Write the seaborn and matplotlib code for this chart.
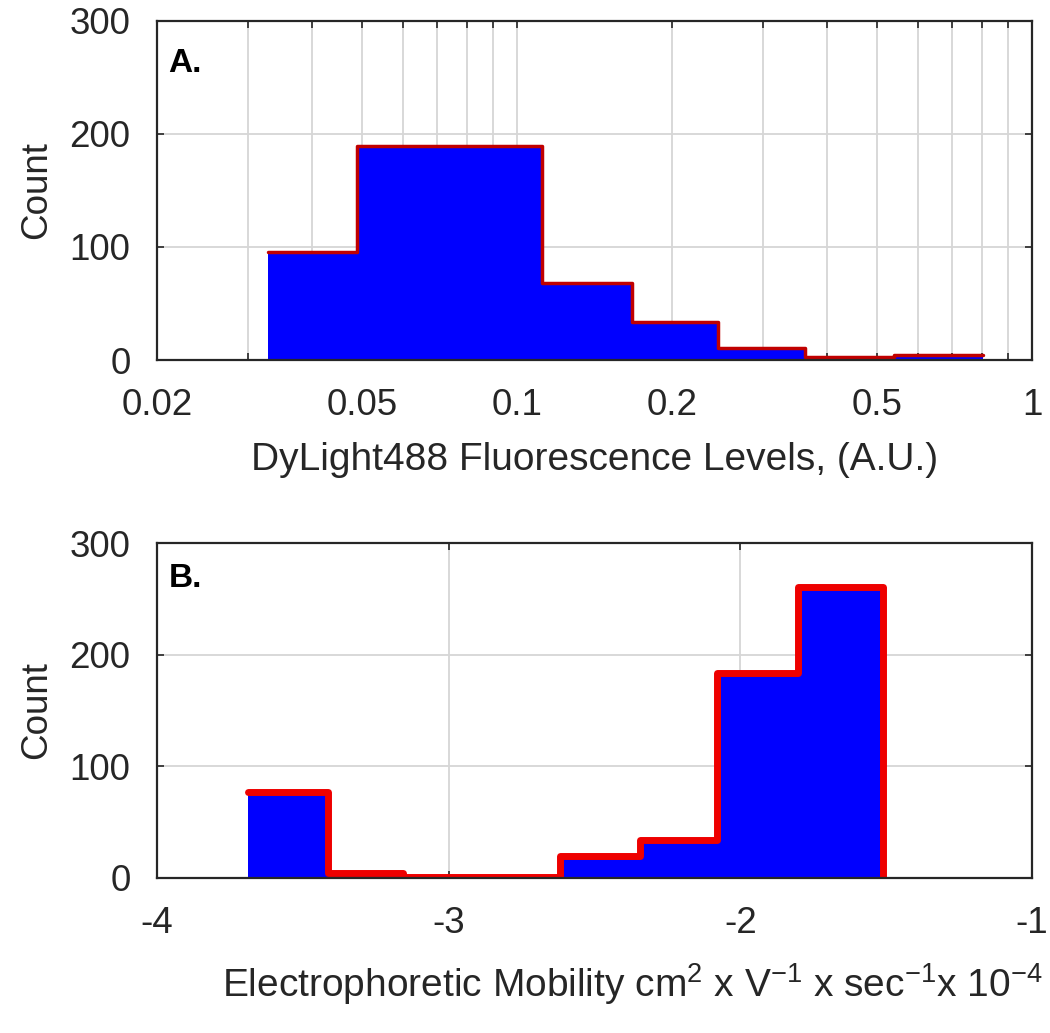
import numpy as np
import pandas as pd
import matplotlib
matplotlib.use("Agg")
import matplotlib.pyplot as plt
import seaborn as sns
from matplotlib.ticker import FixedLocator, FixedFormatter, LogLocator, NullFormatter

# ---------------- data ----------------
# Panel A: DyLight488 fluorescence histogram (log-spaced bins)
fluor_edges = [0.0328, 0.0489, 0.0738, 0.1118, 0.1673, 0.2456, 0.3622, 0.5395, 0.8035]
fluor_counts = [96, 189, 189, 68, 34, 11, 3, 4]
fluor_ticks = [0.02, 0.05, 0.1, 0.2, 0.5, 1]
fluor_ticklabels = ["0.02", "0.05", "0.1", "0.2", "0.5", "1"]

# Panel B: electrophoretic mobility histogram
mob_edges = [-3.688, -3.414, -3.157, -2.889, -2.618, -2.344, -2.080, -1.803, -1.511]
mob_counts = [77, 4, 1, 1, 20, 34, 184, 261]
mob_ticks = [-4, -3, -2, -1]
mob_ticklabels = ["-4", "-3", "-2", "-1"]

count_ticks = [0, 100, 200, 300]
count_ticklabels = ["0", "100", "200", "300"]

xlabel_a = "DyLight488 Fluorescence Levels, (A.U.)"
xlabel_b = r"Electrophoretic Mobility cm$^2$ x V$^{-1}$ x sec$^{-1}$x 10$^{-4}$"
ylabel = "Count"

# ---------------- style ----------------
sns.set_style("white")
plt.rcParams["font.family"] = ["Liberation Sans", "DejaVu Sans"]
plt.rcParams["mathtext.default"] = "regular"
plt.rcParams["axes.unicode_minus"] = False

FS_TICK = 26.5
FS_LAB = 28
BLUE = "#0000ff"
RED = "#ee0000"
FRAME = "#262626"
GRID = "#d6d6d6"

fig = plt.figure(figsize=(10.5, 10.33), dpi=100)
ax_a = fig.add_axes([0.1495, 0.6515, 0.8334, 0.3282])
ax_b = fig.add_axes([0.1495, 0.1501, 0.8334, 0.3242])

# ---- Panel A ----
ea = np.asarray(fluor_edges)
bins_a = [float(v) for v in np.log10(ea)]
df_a = pd.DataFrame({"value": np.sqrt(ea[:-1] * ea[1:]), "count": fluor_counts})
sns.histplot(data=df_a, x="value", weights="count", bins=bins_a, log_scale=True,
             element="step", fill=True, color=BLUE, alpha=1, linewidth=0, ax=ax_a)
sns.histplot(data=df_a, x="value", weights="count", bins=bins_a, log_scale=True,
             element="step", fill=False, color="#c00000", linewidth=2.5, ax=ax_a)
ax_a.set_xlim(0.02, 1)
ax_a.xaxis.set_major_locator(FixedLocator(fluor_ticks))
ax_a.xaxis.set_major_formatter(FixedFormatter(fluor_ticklabels))
ax_a.xaxis.set_minor_locator(LogLocator(base=10, subs=np.arange(2, 10), numticks=30))
ax_a.xaxis.set_minor_formatter(NullFormatter())
ax_a.set_xlabel(xlabel_a, fontsize=FS_LAB, labelpad=14)

# ---- Panel B ----
eb = np.asarray(mob_edges)
bins_b = list(mob_edges)
df_b = pd.DataFrame({"value": (eb[:-1] + eb[1:]) / 2, "count": mob_counts})
sns.histplot(data=df_b, x="value", weights="count", bins=bins_b,
             element="step", fill=True, color=BLUE, alpha=1, linewidth=0, ax=ax_b)
sns.histplot(data=df_b, x="value", weights="count", bins=bins_b,
             element="step", fill=False, color=RED, linewidth=5, ax=ax_b)
# closing vertical edge of the last bin
ax_b.vlines(mob_edges[-1], 0, mob_counts[-1], color=RED, linewidth=5)
ax_b.set_xlim(-4, -1)
ax_b.set_xticks(mob_ticks)
ax_b.set_xticklabels(mob_ticklabels)
ax_b.set_xlabel(xlabel_b, fontsize=FS_LAB, labelpad=14)
ax_b.xaxis.set_label_coords(0.543, -0.25)

for ax, lab in ((ax_a, "A."), (ax_b, "B.")):
    ax.set_ylim(0, 300)
    ax.set_yticks(count_ticks)
    ax.set_yticklabels(count_ticklabels)
    ax.set_ylabel(ylabel, fontsize=FS_TICK, labelpad=11)
    ax.grid(True, which="both", color=GRID, linewidth=1.3)
    ax.set_axisbelow(True)
    for s in ax.spines.values():
        s.set_visible(True)
        s.set_color(FRAME)
        s.set_linewidth(1.6)
    ax.tick_params(axis="both", which="both", direction="in", length=5, width=1.2,
                   color=FRAME, top=True, right=True, bottom=True, left=True,
                   labelsize=FS_TICK, labelcolor="#262626")
    ax.tick_params(axis="x", which="both", pad=20)
    ax.tick_params(axis="y", which="both", pad=19)
    ax.text(0.013, 0.92 if lab == "A." else 0.94, lab, transform=ax.transAxes,
            fontsize=24, fontweight="bold", va="top", ha="left", color="black")

fig.savefig("out.png", dpi=100)
